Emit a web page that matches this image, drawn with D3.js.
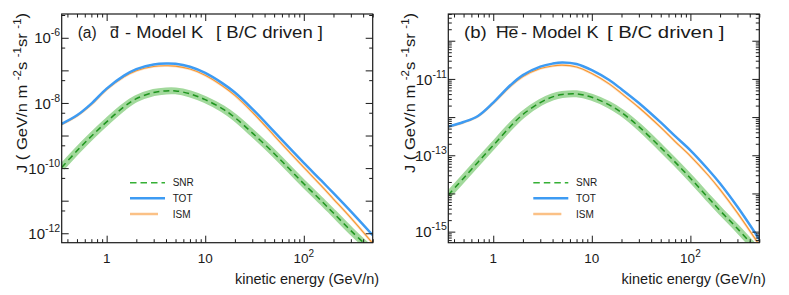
<!DOCTYPE html>
<html>
<head>
<meta charset="utf-8">
<script src="https://cdn.jsdelivr.net/npm/d3@7"></script>
<style>
  body { margin: 0; background: #fff; }
  text { font-family: "Liberation Sans", Arial, Helvetica, sans-serif; fill: #1a1a1a; }
</style>
</head>
<body>
<div id="canevas"></div>
<script>
// ---------------- données (log10 du flux J) ----------------
// énergie cinétique (GeV/n)
const energie = [0.35, 0.5, 0.7, 1, 1.5, 2, 3, 4, 5, 7, 10, 15, 20, 30, 50, 70, 100, 150, 200, 300, 500];

// (a) anti-deuton
const totA = [-8.64, -8.38, -8.02, -7.56, -7.16, -6.96, -6.82, -6.79, -6.80, -6.89, -7.08, -7.40, -7.68, -8.18, -8.88, -9.35, -9.84, -10.38, -10.77, -11.33, -12.06];
const ismA = [-8.66, -8.40, -8.05, -7.59, -7.20, -7.01, -6.88, -6.86, -6.87, -6.96, -7.15, -7.48, -7.77, -8.28, -9.00, -9.48, -9.98, -10.54, -10.95, -11.53, -12.31];
const snrA = [-9.98, -9.47, -9.02, -8.58, -8.12, -7.87, -7.68, -7.63, -7.63, -7.72, -7.90, -8.18, -8.45, -8.92, -9.55, -10.00, -10.48, -11.00, -11.38, -11.92, -12.55];

// (b) anti-hélium
const totB = [-12.25, -12.13, -11.97, -11.62, -11.16, -10.90, -10.68, -10.60, -10.57, -10.61, -10.77, -11.03, -11.27, -11.63, -12.14, -12.50, -12.87, -13.36, -13.74, -14.35, -15.20];
const ismB = [-12.26, -12.14, -11.98, -11.64, -11.19, -10.94, -10.73, -10.66, -10.64, -10.69, -10.86, -11.13, -11.38, -11.75, -12.27, -12.64, -13.02, -13.51, -13.90, -14.51, -15.35];
const snrB = [-14.04, -13.60, -13.18, -12.74, -12.24, -11.93, -11.62, -11.47, -11.41, -11.39, -11.48, -11.68, -11.88, -12.25, -12.80, -13.18, -13.60, -14.10, -14.45, -14.92, -15.55];

// ticks et légende
const xMajeurs = [1, 10, 100];
const xEtiquettes = [["1", ""], ["10", ""], ["10", "2"]];
const yEtiqA = [-6, -8, -10, -12];
const yEtiqB = [-11, -13, -15];
const legendeNoms = ["SNR", "TOT", "ISM"];

// ---------------- canevas ----------------
const largeur = 789, hauteur = 295;
const haut = 14, bas = 242.7, larg = 311;

const svg = d3.select("#canevas").append("svg")
  .attr("width", largeur)
  .attr("height", hauteur);

svg.append("rect").attr("width", "100%").attr("height", "100%").attr("fill", "#fff");

const couleurs = { tot: "#3d9bf3", ism: "#f7962e", ismBande: "#fde0c4", snr: "#1f951f", snrBande: "#a2d99c", snrLeg: "#35b035" };

const panneaux = [
  { id: "a", x0: 61.7, ymin: -12.29, ymax: -5.27, tot: totA, ism: ismA, snr: snrA, etiq: yEtiqA,
    mineurs: [5], titreY: 26.5, legX: 130,
    titre: { lettre: "d", xs: [77.7, 110, 125, 216], w: [19, null, 78.3, 107] } },
  { id: "b", x0: 448.3, ymin: -15.29, ymax: -9.30, tot: totB, ism: ismB, snr: snrB, etiq: yEtiqB,
    mineurs: [2, 3, 4, 5, 6, 7, 8, 9], titreY: 414.5, legX: 533.3,
    titre: { lettre: "He", xs: [464, 496, 521, 607], w: [22.7, 22.3, 77.5, 117.5] } }
];

panneaux.forEach(dessiner);

function dessiner(p) {
  const x1 = p.x0 + larg;
  const x = d3.scaleLog().domain([0.35, 500]).range([p.x0, x1]);
  const y = d3.scaleLog().domain([10 ** p.ymin, 10 ** p.ymax]).range([bas, haut]);

  svg.append("clipPath").attr("id", "clip" + p.id)
    .append("rect").attr("x", p.x0).attr("y", haut).attr("width", larg).attr("height", bas - haut);

  const ligne = d3.line()
    .x((d, i) => x(energie[i]))
    .y(d => y(10 ** d))
    .curve(d3.curveCatmullRom.alpha(0.5));

  const g = svg.append("g").attr("clip-path", "url(#clip" + p.id + ")");

  // bandes
  g.append("path").attr("d", ligne(p.snr)).attr("fill", "none")
    .attr("stroke", couleurs.snrBande).attr("stroke-width", 7);
  g.append("path").attr("d", ligne(p.ism)).attr("fill", "none")
    .attr("stroke", couleurs.ismBande).attr("stroke-width", 2.6);
  // courbes
  g.append("path").attr("d", ligne(p.ism)).attr("fill", "none")
    .attr("stroke", couleurs.ism).attr("stroke-width", 1.1);
  g.append("path").attr("d", ligne(p.tot)).attr("fill", "none")
    .attr("stroke", couleurs.tot).attr("stroke-width", 2.5);
  g.append("path").attr("d", ligne(p.snr)).attr("fill", "none")
    .attr("stroke", couleurs.snr).attr("stroke-width", 1.5).attr("stroke-dasharray", "6,4");

  // ticks x
  const xMineurs = [];
  [0.1, 1, 10, 100].forEach(b => { for (let k = 2; k <= 9; k++) { const v = k * b; if (v >= 0.35 && v <= 500) xMineurs.push(v); } });

  const axe = (gen, tr) => svg.append("g").attr("transform", tr).call(gen)
    .call(s => s.select(".domain").remove())
    .call(s => s.selectAll("line").attr("stroke", "#1a1a1a"));

  axe(d3.axisBottom(x).tickValues(xMajeurs).tickSize(-7).tickFormat(""), `translate(0,${bas})`);
  axe(d3.axisBottom(x).tickValues(xMineurs).tickSize(-3.5).tickFormat(""), `translate(0,${bas})`);
  axe(d3.axisTop(x).tickValues(xMajeurs).tickSize(-7).tickFormat(""), `translate(0,${haut})`);
  axe(d3.axisTop(x).tickValues(xMineurs).tickSize(-3.5).tickFormat(""), `translate(0,${haut})`);

  // ticks y
  const yMajeurs = [], yMineurs = [];
  for (let n = Math.floor(p.ymin); n <= Math.ceil(p.ymax); n++) {
    if (n >= p.ymin && n <= p.ymax) yMajeurs.push(10 ** n);
    p.mineurs.forEach(k => { const l = n + Math.log10(k); if (l >= p.ymin && l <= p.ymax) yMineurs.push(10 ** l); });
  }
  axe(d3.axisLeft(y).tickValues(yMajeurs).tickSize(-7).tickFormat(""), `translate(${p.x0},0)`);
  axe(d3.axisLeft(y).tickValues(yMineurs).tickSize(-3.5).tickFormat(""), `translate(${p.x0},0)`);
  axe(d3.axisRight(y).tickValues(yMajeurs).tickSize(-7).tickFormat(""), `translate(${x1},0)`);
  axe(d3.axisRight(y).tickValues(yMineurs).tickSize(-3.5).tickFormat(""), `translate(${x1},0)`);

  // cadre
  svg.append("rect").attr("x", p.x0).attr("y", haut).attr("width", larg).attr("height", bas - haut)
    .attr("fill", "none").attr("stroke", "#1a1a1a").attr("stroke-width", 1.2);

  // étiquettes x
  xMajeurs.forEach((v, i) => {
    const t = svg.append("text").attr("x", x(v)).attr("y", 262.7)
      .attr("text-anchor", "middle").attr("font-size", 13.5);
    t.append("tspan").text(xEtiquettes[i][0]);
    if (xEtiquettes[i][1]) t.append("tspan").attr("font-size", 10).attr("dy", -6).text(xEtiquettes[i][1]);
  });

  // étiquettes y
  p.etiq.forEach(n => {
    const t = svg.append("text").attr("x", p.x0 - 1.5).attr("y", y(10 ** n) + 5.6)
      .attr("text-anchor", "end").attr("font-size", 15);
    t.append("tspan").text("10");
    t.append("tspan").attr("font-size", 10.5).attr("dy", -7).text(n);
  });

  // titre x
  svg.append("text").attr("x", x1 + 6.5).attr("y", 284)
    .attr("text-anchor", "end").attr("font-size", 14.5)
    .text("kinetic energy (GeV/n)");

  // titre y
  const ty = svg.append("text")
    .attr("transform", `translate(${p.titreY},0) rotate(-90)`)
    .attr("x", -173).attr("y", 0)
    .attr("font-size", 14.5)
    .attr("textLength", 160).attr("lengthAdjust", "spacingAndGlyphs");
  ty.append("tspan").text("J ( GeV/n m ");
  ty.append("tspan").attr("font-size", 10).attr("dy", -5.5).text("-2");
  ty.append("tspan").attr("dy", 5.5).text("s ");
  ty.append("tspan").attr("font-size", 10).attr("dy", -5.5).text("-1");
  ty.append("tspan").attr("dy", 5.5).text("sr ");
  ty.append("tspan").attr("font-size", 10).attr("dy", -5.5).text("-1");
  ty.append("tspan").attr("dy", 5.5).text(")");

  // titre du panneau
  const T = p.titre;
  const morceaux = ["(" + p.id + ")", T.lettre, "- Model K", "[ B/C driven ]"];
  morceaux.forEach((m, i) => {
    const t = svg.append("text").attr("x", T.xs[i]).attr("y", 37.7)
      .attr("font-size", 16).text(m);
    if (T.w[i]) t.attr("textLength", T.w[i]).attr("lengthAdjust", "spacingAndGlyphs");
    if (i == 1) {
      const w = T.w[i] || t.node().getComputedTextLength();
      svg.append("line").attr("x1", T.xs[i] + 0.5).attr("x2", T.xs[i] + w - 0.3)
        .attr("y1", 27).attr("y2", 27).attr("stroke", "#1a1a1a").attr("stroke-width", 1.2);
    }
  });

  // légende
  const legY = [182.7, 198.3, 214];
  legendeNoms.forEach((nom, i) => {
    const lx = p.legX, ly = legY[i];
    if (nom == "SNR") {
      svg.append("line").attr("x1", lx).attr("x2", lx + 35).attr("y1", ly).attr("y2", ly)
        .attr("stroke", couleurs.snrLeg).attr("stroke-width", 1.5).attr("stroke-dasharray", "6.5,4");
    } else if (nom == "TOT") {
      svg.append("line").attr("x1", lx).attr("x2", lx + 35).attr("y1", ly).attr("y2", ly)
        .attr("stroke", couleurs.tot).attr("stroke-width", 2.5);
    } else {
      svg.append("line").attr("x1", lx).attr("x2", lx + 28).attr("y1", ly).attr("y2", ly)
        .attr("stroke", couleurs.ismBande).attr("stroke-width", 3);
      svg.append("line").attr("x1", lx).attr("x2", lx + 28).attr("y1", ly).attr("y2", ly)
        .attr("stroke", "#fbac5e").attr("stroke-width", 1.2);
    }
    svg.append("text").attr("x", lx + 42.7).attr("y", ly + 3.6)
      .attr("font-size", 10).attr("fill", "#333").text(nom);
  });
}
</script>
</body>
</html>
